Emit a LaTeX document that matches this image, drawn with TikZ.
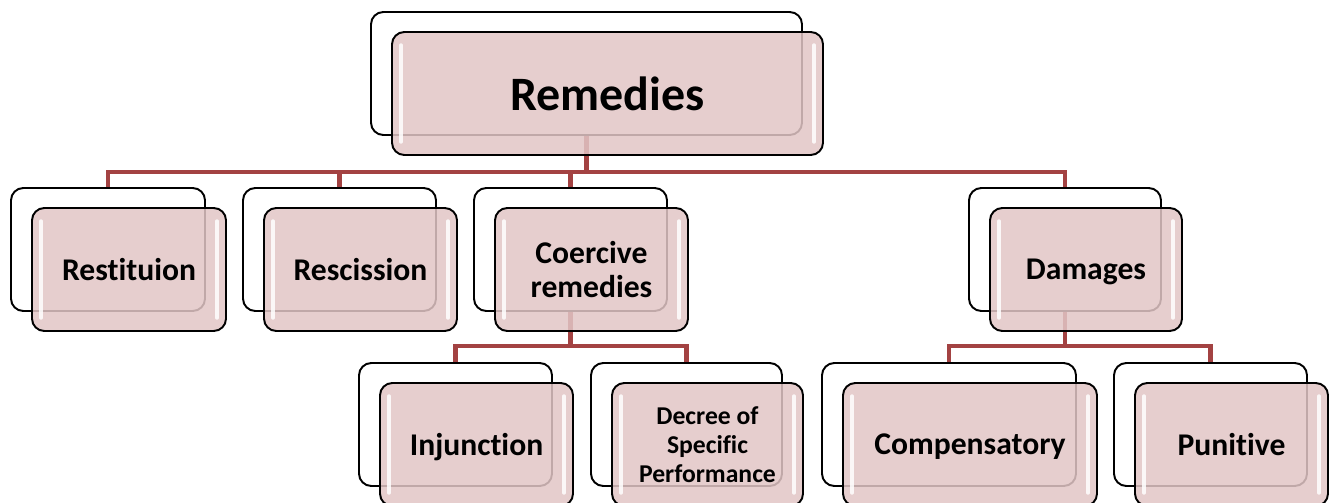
\documentclass[tikz,border=0pt]{standalone}
\usepackage{fontspec}
\setmainfont[Ligatures=NoCommon]{Carlito}
\usetikzlibrary{backgrounds}
\definecolor{linkred}{RGB}{163,66,66}
\definecolor{boxpink}{RGB}{226,198,198}

\begin{document}
\begin{tikzpicture}[x=0.02cm, y=0.02cm,
        back/.style={draw=black, line width=1.1pt, fill=white, rounded corners=7pt, minimum height=2.46cm},
        front/.style={draw=black, line width=1.1pt, fill=boxpink, fill opacity=0.85, text opacity=1,
            rounded corners=7pt, minimum height=2.46cm, align=center, text depth=0pt},
        bigfont/.style={font=\bfseries\fontsize{27.3}{30}\selectfont},
        midfont/.style={font=\bfseries\fontsize{18}{19.4}\selectfont},
        smallfont/.style={font=\bfseries\fontsize{14.6}{16.7}\selectfont},
        link/.style={draw=linkred, line width=2.3pt},
        glint/.style={white, line width=2pt, line cap=round, opacity=0.85}]
        \useasboundingbox (0,0) rectangle (1335,-503);

        % Cards: name / x / y / width / font / text
        \foreach \n/\x/\y/\w/\s/\t in {
            root/607.5/-93.5/431/bigfont/Remedies,
            rest/129/-269.5/194/midfont/Restituion,
            resc/360.5/-269.5/193/midfont/Rescission,
            coer/591.5/-269.5/193/midfont/{Coercive\\remedies},
            dam/1086/-269.5/192/midfont/Damages,
            inj/476.5/-444.5/193/midfont/Injunction,
            dec/707.5/-444.5/191/smallfont/{Decree of\\Specific\\Performance},
            comp/970/-444.5/254/midfont/Compensatory,
            pun/1231.5/-444.5/193/midfont/Punitive} {
            \node[back, minimum width=\w*0.02cm] (b\n) at (\x-21,\y+20) {};
            \node[front, \s, minimum width=\w*0.02cm] (\n) at (\x,\y) {\t};
            \draw[glint] ([shift={(10,-14)}]\n.north west) -- ([shift={(10,14)}]\n.south west);
            \draw[glint] ([shift={(-10,-14)}]\n.north east) -- ([shift={(-10,14)}]\n.south east);
        }

        % Connectors
        \begin{scope}[on background layer]
            \foreach \c in {rest,resc,coer,dam}
                \draw[link] (b\c.north) -- ++(0,15) -| (broot.south);
            \foreach \c in {inj,dec}
                \draw[link] (b\c.north) -- ++(0,16) -| (bcoer.south);
            \foreach \c in {comp,pun}
                \draw[link] (b\c.north) -- ++(0,16) -| (bdam.south);
        \end{scope}
    \end{tikzpicture}
\end{document}
